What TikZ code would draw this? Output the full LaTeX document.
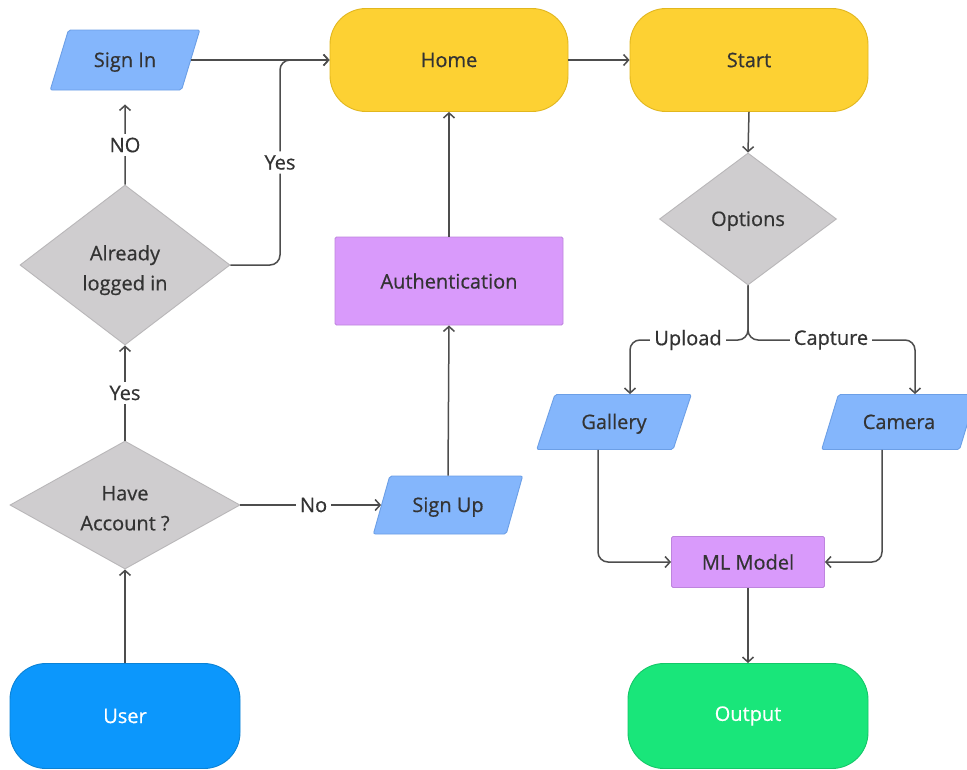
\documentclass[tikz,border=0pt]{standalone}
\usepackage{fontspec}
\setmainfont{Open Sans}
\newfontfamily\medfont[FakeBold=0.6]{Open Sans}
\usetikzlibrary{shapes.geometric,arrows.meta}
\definecolor{yel}{HTML}{FDD133}
\definecolor{yelB}{HTML}{E2B71E}
\definecolor{pur}{HTML}{D99AFB}
\definecolor{purB}{HTML}{BE84DE}
\definecolor{blu}{HTML}{84B6FC}
\definecolor{bluB}{HTML}{6C9FE6}
\definecolor{gry}{HTML}{CFCDCF}
\definecolor{gryB}{HTML}{B9B7B9}
\definecolor{usr}{HTML}{0C97FC}
\definecolor{usrB}{HTML}{0A82D6}
\definecolor{grn}{HTML}{19E67A}
\definecolor{grnB}{HTML}{13C868}
\definecolor{txt}{HTML}{333333}
\definecolor{ln}{HTML}{4D4D4D}
\newcommand{\twolines}[2]{\makebox[0pt]{\smash{\raisebox{-9.5pt}{\begin{tabular}{@{}c@{}}#1\\#2\end{tabular}}}}}
\newcommand{\oneline}[1]{\smash{\raisebox{-7pt}{#1}}\rule[-10pt]{0pt}{20pt}}
\tikzset{
  base/.style={font=\medfont\fontsize{20}{30}\selectfont, text=txt, line width=0.9pt, align=center, inner sep=0pt},
  pill/.style={base, rectangle, rounded corners=36pt, fill=yel, draw=yelB, minimum width=238, minimum height=103},
  procbox/.style={base, rectangle, rounded corners=1.5pt, fill=pur, draw=purB},
  iobox/.style={base, trapezium, trapezium left angle=63.4, trapezium right angle=116.6, trapezium stretches=true, rounded corners=2pt, fill=blu, draw=bluB},
  decide/.style={base, diamond, fill=gry, draw=gryB},
  conn/.style={draw=ln, line width=1.5pt, -{Straight Barb[length=5pt,width=11pt]}},
  lbl/.style={font=\medfont\fontsize{20}{30}\selectfont, text=txt, fill=white, inner sep=4pt}
}
\begin{document}
\begin{tikzpicture}[x=1pt,y=-1pt]
\useasboundingbox (0,0) rectangle (967,769);
\clip (0,0) rectangle (967,769);
\fill[white] (0,0) rectangle (967,769);

% nodes
\node[iobox, minimum width=150, minimum height=60] (signin) at (125,60) {\oneline{Sign In}};
\node[pill] (home) at (449,60) {Home};
\node[pill] (start) at (749,60) {Start};
\node[decide, minimum width=210, minimum height=160] (already) at (125,265) {\twolines{Already}{logged in}};
\node[procbox, minimum width=228, minimum height=88] (auth) at (449,281) {Authentication};
\node[decide, minimum width=177, minimum height=132] (options) at (748,219) {\oneline{Options}};
\node[decide, minimum width=230, minimum height=128] (have) at (125,505) {\twolines{Have}{Account ?}};
\node[iobox, minimum width=150, minimum height=58] (signup) at (448,505) {\oneline{Sign Up}};
\node[iobox, minimum width=155, minimum height=55] (gallery) at (614,422) {\oneline{Gallery}};
\node[iobox, minimum width=155, minimum height=55] (camera) at (899,422) {\oneline{Camera}};
\node[procbox, minimum width=153, minimum height=51] (ml) at (748,562) {ML Model};
\node[pill, fill=usr, draw=usrB, text=white, minimum width=230, minimum height=105] (user) at (125,716) {User};
\node[pill, fill=grn, draw=grnB, text=white, minimum width=240, minimum height=105] (out) at (748,716) {Output};

% helper coordinates
\coordinate (yx) at (280,0);
\coordinate (fork) at (748,340);
\coordinate (gl) at (630,340);
\coordinate (cr) at (915,340);
\coordinate (gx) at (598,0);
\coordinate (cx) at (882,0);

% connectors
\draw[conn] (user.north) -- (have.south);
\draw[conn] (have.north) -- node[lbl, pos=0.5] {Yes} (already.south);
\draw[conn, shorten >=14pt] (already.north) -- node[lbl, pos=0.42] {NO} (signin.south);
\draw[conn] (signin.east) -- (home.west);
\draw[conn, rounded corners=10pt] (already.east) -- (yx |- already.east) -- node[lbl, pos=0.5] {Yes} (yx |- home.west) -- (home.west);
\draw[conn] (have.east) -- node[lbl, pos=0.52] {No} (have.east -| signup.west);
\draw[conn] (signup.north) -- (auth.south);
\draw[conn] (auth.north) -- (home.south);
\draw[conn] (home.east) -- (start.west);
\draw[conn] (start.south) -- (options.north);
\draw[conn, rounded corners=10pt] (options.south) -- (fork) -- (gl) -- (gl |- gallery.north);
\draw[conn, rounded corners=10pt] (options.south) -- (fork) -- (cr) -- (cr |- camera.north);
\node[lbl] (uplbl) at (688,340) {Upload};
\node[lbl] (caplbl) at (831,340) {Capture};
\draw[conn, rounded corners=10pt] (gx |- gallery.south) -- (gx |- ml.west) -- (ml.west);
\draw[conn, rounded corners=10pt] (cx |- camera.south) -- (cx |- ml.east) -- (ml.east);
\draw[conn] (ml.south) -- (out.north);
\end{tikzpicture}
\end{document}
